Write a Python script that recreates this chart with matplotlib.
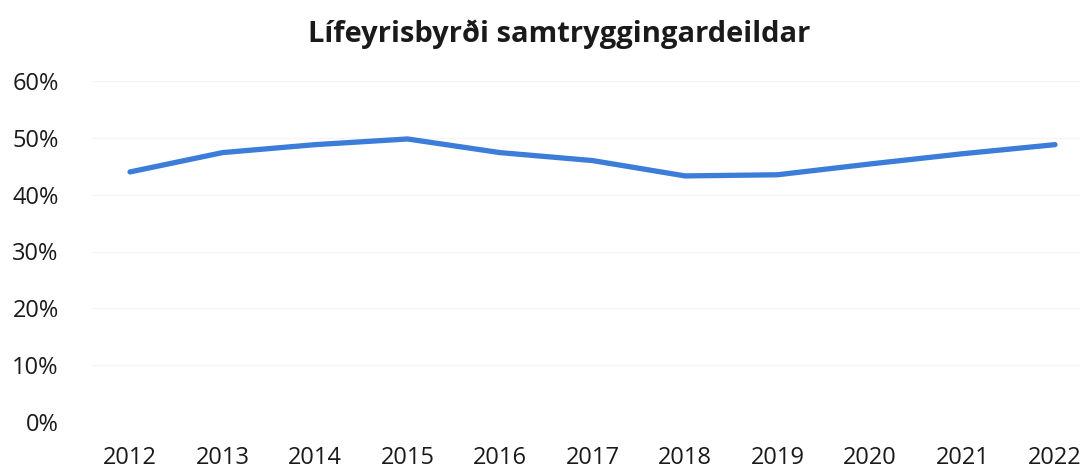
import matplotlib
matplotlib.use("Agg")
import matplotlib.pyplot as plt
from matplotlib.ticker import PercentFormatter

years = ["2012", "2013", "2014", "2015", "2016", "2017", "2018", "2019", "2020", "2021", "2022"]
values = [0.440, 0.474, 0.488, 0.498, 0.474, 0.460, 0.433, 0.435, 0.454, 0.472, 0.488]
yticks = [0.0, 0.1, 0.2, 0.3, 0.4, 0.5, 0.6]
title = "Lífeyrisbyrði samtryggingardeildar"

plt.rcParams['font.family'] = ['Open Sans', 'DejaVu Sans']

W, H = 1086, 468
fig = plt.figure(figsize=(W / 100, H / 100), dpi=100)
left_px, right_px, top_px, bot_px = 92, 1080, 81, 422
ax = fig.add_axes([left_px / W, 1 - bot_px / H, (right_px - left_px) / W, (bot_px - top_px) / H])

x = list(range(len(years)))
ax.plot(x, values, color="#3b7dd8", lw=3.8, solid_capstyle="round", solid_joinstyle="round", zorder=3)

scale = 92.5
ax.set_xlim(-(130 - left_px) / scale, 10 + (right_px - 1055) / scale)
ax.set_ylim(0, 0.6)
ax.set_yticks(yticks)
ax.yaxis.set_major_formatter(PercentFormatter(1.0, decimals=0))
ax.set_xticks(x)
ax.set_xticklabels(years)
ax.grid(axis="y", color="#f5f5f5", lw=1)
ax.set_axisbelow(True)
for s in ax.spines.values():
    s.set_visible(False)
ax.tick_params(axis="both", length=0, labelsize=17, colors="#1a1a1a")
ax.tick_params(axis="x", pad=17)
ax.tick_params(axis="y", pad=24)

fig.text(559 / W, 1 - 42 / H, title, ha="center", va="baseline", fontsize=21, fontweight="bold", color="#1a1a1a")

fig.savefig("out.png", dpi=100, facecolor="white")
